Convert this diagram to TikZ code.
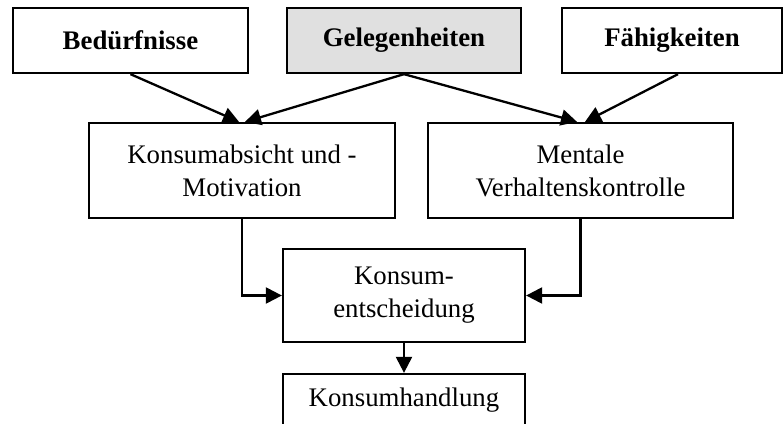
\documentclass[tikz,border=0pt]{standalone}
\usepackage{fontspec}
\setmainfont{Liberation Serif}
\usetikzlibrary{arrows.meta,positioning,calc}
\definecolor{boxgray}{RGB}{224,224,224}

\begin{document}
\begin{tikzpicture}[x=0.5pt, y=-0.5pt,
    >={Triangle[length=8pt, width=8pt]},
    every node/.style={font=\fontsize{13.4}{16.5}\selectfont},
    factor/.style={draw, line width=1.15pt, inner sep=0pt, minimum height=32.5pt, font=\fontsize{13.4}{16.5}\selectfont\bfseries},
    stage/.style={draw, line width=1.15pt, inner sep=0pt, align=center},
    link/.style={->, line width=1.15pt}]
    % --- Frame (bottom box runs off the lower edge) ---
    \useasboundingbox (0,0) rectangle (784,424);
    \clip (0,0) rectangle (784,424);
    % --- Top row: influences ---
    \node[factor, minimum width=117.5pt] (bed) at (130.5,40.5) {Bedürfnisse};
    \node[factor, minimum width=117pt, fill=boxgray] (gel) at (404,40.5) {Gelegenheiten};
    \node[factor, minimum width=110pt] (fae) at (672,40.5) {Fähigkeiten};
    % --- Middle row ---
    \node[stage, minimum width=153pt, minimum height=47.5pt] (abs) at (242,170.5) {Konsumabsicht und -\\Motivation};
    \node[stage, minimum width=152.5pt, minimum height=47.5pt] (men) at (580.5,170.5) {Mentale\\Verhaltenskontrolle};
    % --- Decision and action ---
    \node[stage, minimum width=121pt, minimum height=46.5pt] (ent) at (404,295.5) {Konsum-\\entscheidung};
    \node[stage, minimum width=121pt, minimum height=26pt] (hdl) at (404,400) {Konsumhandlung};
    % --- Connectors ---
    \draw[link] (bed.south) -- ([xshift=-1.5pt]abs.north);
    \draw[link] (gel.south) -- ([xshift=1.5pt]abs.north);
    \draw[link] (gel.south) -- ([xshift=-1.75pt]men.north);
    \draw[link] ([xshift=3pt]fae.south) -- ([xshift=2.25pt]men.north);
    \draw[link] (abs.south) |- (ent.west);
    \draw[link] (men.south) |- (ent.east);
    \draw[link] (ent.south) -- (hdl.north);
\end{tikzpicture}
\end{document}
